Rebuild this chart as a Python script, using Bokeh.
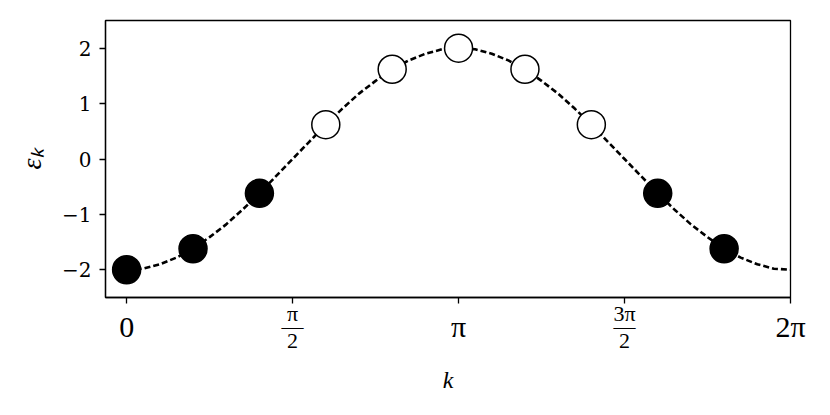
import math
from bokeh.plotting import figure
from bokeh.models import Range1d, FixedTicker, LinearAxis, ColumnDataSource
from bokeh.embed import file_html
from bokeh.resources import INLINE

PI = math.pi

# ---- data ----
# sampled momenta k_n = 2*pi*n/10, n = 0..9
site_index = [0, 1, 2, 3, 4, 5, 6, 7, 8, 9]
site_energy = [-2.0, -1.62, -0.62, 0.62, 1.62, 2.0, 1.62, 0.62, -0.62, -1.62]
site_filled = [True, True, True, False, False, False, False, False, True, True]

# dashed dispersion curve, sampled every pi/20 from 0 to 2*pi
curve_index = list(range(41))
curve_energy = [-2.00, -1.98, -1.90, -1.78, -1.62, -1.41, -1.18, -0.91, -0.62, -0.31,
                0.00, 0.31, 0.62, 0.91, 1.18, 1.41, 1.62, 1.78, 1.90, 1.98,
                2.00, 1.98, 1.90, 1.78, 1.62, 1.41, 1.18, 0.91, 0.62, 0.31,
                0.00, -0.31, -0.62, -0.91, -1.18, -1.41, -1.62, -1.78, -1.90, -1.98, -2.00]

x_tick_values = [0, PI / 2, PI, 3 * PI / 2, 2 * PI]
x_tick_labels = ["0", "", "π", "", "2π"]
x_frac_values = [PI / 2, 3 * PI / 2]
x_frac_labels = ["π\n—\n2", "3π\n—\n2"]
y_tick_values = [-2, -1, 0, 1, 2]
y_tick_labels = ["−2", "−1", "0", "1", "2"]

site_k = [n * 2 * PI / 10 for n in site_index]
curve_k = [n * PI / 20 for n in curve_index]

SERIF = "Liberation Serif"

p = figure(
    frame_width=685, frame_height=277,
    min_border_left=105, min_border_right=40, min_border_top=20, min_border_bottom=118,
    x_range=Range1d(-0.2, 2 * PI), y_range=Range1d(-2.5, 2.5),
    output_backend="svg", toolbar_location=None,
)
p.background_fill_color = "white"
p.border_fill_color = "white"
p.outline_line_color = "black"
p.outline_line_width = 1.3
p.xgrid.visible = False
p.ygrid.visible = False

# curve
p.line(curve_k, curve_energy, line_color="black", line_width=2.6, line_dash="6 3")

# markers
filled = ColumnDataSource(dict(
    k=[k for k, f in zip(site_k, site_filled) if f],
    e=[e for e, f in zip(site_energy, site_filled) if f]))
empty = ColumnDataSource(dict(
    k=[k for k, f in zip(site_k, site_filled) if not f],
    e=[e for e, f in zip(site_energy, site_filled) if not f]))
p.scatter("k", "e", source=filled, size=28, fill_color="black",
          line_color="black", line_width=1.5)
p.scatter("k", "e", source=empty, size=28, fill_color="white",
          line_color="black", line_width=1.5)

# x axis (ticks + whole-number labels)
xa = p.xaxis[0]
xa.ticker = FixedTicker(ticks=x_tick_values, minor_ticks=[])
xa.major_label_overrides = {v: t for v, t in zip(x_tick_values, x_tick_labels)}
xa.major_label_text_font = SERIF
xa.major_label_text_font_size = "30px"
xa.major_label_text_color = "black"
xa.major_label_standoff = 6
xa.major_tick_in = 0
xa.major_tick_out = 6
xa.major_tick_line_color = "black"
xa.major_tick_line_width = 1.3
xa.axis_line_color = "black"
xa.axis_line_width = 1.3

# second x axis below: fraction labels pulled up next to the ticks, and the axis label
fa = LinearAxis()
fa.ticker = FixedTicker(ticks=x_frac_values, minor_ticks=[])
fa.major_label_overrides = {v: t for v, t in zip(x_frac_values, x_frac_labels)}
fa.major_label_text_font = SERIF
fa.major_label_text_font_size = "22px"
fa.major_label_text_line_height = 0.54
fa.major_label_text_color = "black"
fa.major_label_standoff = -45
fa.major_tick_in = 0
fa.major_tick_out = 0
fa.major_tick_line_color = None
fa.minor_tick_line_color = None
fa.axis_line_color = None
fa.axis_label = "k"
fa.axis_label_text_font = SERIF
fa.axis_label_text_font_style = "italic"
fa.axis_label_text_font_size = "24px"
fa.axis_label_text_color = "black"
fa.axis_label_standoff = 11
p.add_layout(fa, "below")

# y axis
ya = p.yaxis[0]
ya.ticker = FixedTicker(ticks=y_tick_values, minor_ticks=[])
ya.major_label_overrides = {v: t for v, t in zip(y_tick_values, y_tick_labels)}
ya.major_label_text_font = "DejaVu Serif"
ya.major_label_text_font_size = "20px"
ya.major_label_text_color = "black"
ya.major_label_standoff = 8
ya.major_tick_in = 0
ya.major_tick_out = 6
ya.major_tick_line_color = "black"
ya.major_tick_line_width = 1.3
ya.axis_line_color = "black"
ya.axis_line_width = 1.3
ya.axis_label = "εₖ"
ya.axis_label_text_font = SERIF
ya.axis_label_text_font_style = "italic"
ya.axis_label_text_font_size = "28px"
ya.axis_label_text_color = "black"
ya.axis_label_standoff = 12

open("out.html", "w").write(file_html(p, INLINE))
